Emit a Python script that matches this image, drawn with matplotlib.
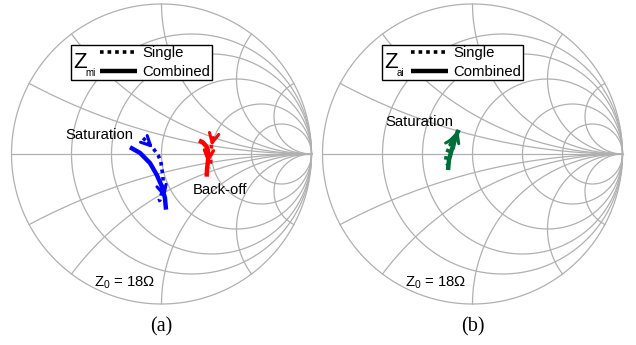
import numpy as np
import matplotlib
matplotlib.use('Agg')
import matplotlib.pyplot as plt
from matplotlib.patches import Rectangle

plt.rcParams['font.family'] = ['Liberation Sans', 'DejaVu Sans']

# grid values of the Smith chart (normalised to Z0 = 18 ohm)
R_GRID = [0.25, 0.5, 1.0, 2.0, 4.0]
X_GRID = [0.25, 0.5, 1.0, 2.0, 4.0]

# trajectories, as reflection coefficient (re, im)
zmi_comb_sat_re = [-0.210, -0.143, -0.077, -0.032, 0.001, 0.023, 0.030]
zmi_comb_sat_im = [0.045, 0.007, -0.060, -0.138, -0.213, -0.293, -0.371]
zmi_single_sat_re = [-0.123, -0.090, -0.057, -0.023, -0.005, 0.003, 0.010, 0.010, 0.003, -0.010, -0.023]
zmi_single_sat_im = [0.107, 0.073, 0.040, -0.007, -0.047, -0.107, -0.147, -0.193, -0.253, -0.307, -0.313]

zmi_comb_bo_re = [0.250, 0.275, 0.300, 0.310, 0.312, 0.308, 0.303, 0.301]
zmi_comb_bo_im = [0.090, 0.078, 0.050, 0.020, -0.018, -0.060, -0.107, -0.151]
zmi_single_bo_re = [0.345, 0.333, 0.327, 0.328, 0.317]
zmi_single_bo_im = [0.110, 0.053, -0.007, -0.053, -0.093]

zai_comb_re = [-0.163, -0.157, -0.139, -0.117, -0.095]
zai_comb_im = [-0.107, -0.040, 0.027, 0.093, 0.160]
zai_single_re = [-0.161, -0.179, -0.172, -0.150, -0.105, -0.090]
zai_single_im = [-0.085, -0.040, 0.005, 0.060, 0.127, 0.160]

GRID_C = '#b0b0b0'
BLUE, RED, GREEN = '#0000ff', '#ff0000', '#006e3a'
SOLID = dict(lw=3.2, solid_capstyle='butt')
DOTTED = dict(lw=2.6, linestyle=(0, (1, 1.1)), dash_capstyle='butt')


def gamma(z):
    return (z - 1) / (z + 1)


def smith_grid(ax):
    t = np.linspace(-np.pi / 2 + 1e-4, np.pi / 2 - 1e-4, 800)
    g = np.exp(1j * np.linspace(0, 2 * np.pi, 400))
    ax.plot(g.real, g.imag, color=GRID_C, lw=0.9)
    ax.plot([-1, 1], [0, 0], color=GRID_C, lw=0.9)
    for r in R_GRID:
        g = gamma(r + 1j * np.tan(t))
        ax.plot(g.real, g.imag, color=GRID_C, lw=0.9)
    tr = np.linspace(0, np.pi / 2 - 1e-4, 600)
    for x in X_GRID:
        for s in (1, -1):
            g = gamma(np.tan(tr) + 1j * s * x)
            ax.plot(g.real, g.imag, color=GRID_C, lw=0.9)


def arrow(ax, xs, ys, i, color):
    ax.annotate('', xy=(xs[i + 1], ys[i + 1]), xytext=(xs[i], ys[i]),
                arrowprops=dict(arrowstyle='->', color=color, lw=2.2,
                                mutation_scale=17, shrinkA=0, shrinkB=0))


def legend_box(ax, x0, y0, sub):
    ax.add_patch(Rectangle((x0, y0), 0.94, 0.233, fill=False, ec='k', lw=1, zorder=4))
    ax.add_patch(Rectangle((x0, y0), 0.94, 0.233, fc='white', ec='none', zorder=3))
    ax.text(x0 + 0.012, y0 + 0.115, 'Z', fontsize=16, va='center', ha='left', zorder=5)
    ax.text(x0 + 0.098, y0 + 0.045, sub, fontsize=7, va='center', ha='left', zorder=5)
    ax.plot([x0 + 0.19, x0 + 0.44], [y0 + 0.185, y0 + 0.185], color='k', zorder=5, **DOTTED)
    ax.plot([x0 + 0.19, x0 + 0.44], [y0 + 0.058, y0 + 0.058], color='k', zorder=5, **SOLID)
    ax.text(x0 + 0.475, y0 + 0.180, 'Single', fontsize=10.7, va='center', zorder=5)
    ax.text(x0 + 0.475, y0 + 0.055, 'Combined', fontsize=10.7, va='center', zorder=5)


W, H = 636, 345
fig = plt.figure(figsize=(W / 100, H / 100), dpi=100)
R = 150.0
for k, cx in enumerate([161.5, 472.5]):
    x_left = 0 if k == 0 else 318
    ax = fig.add_axes([x_left / W, 0, 318 / W, 1])
    ax.set_xlim((x_left - cx) / R, (x_left + 318 - cx) / R)
    ax.set_ylim((154 - H) / R, 154 / R)
    ax.axis('off')
    smith_grid(ax)
    ax.text(-0.45, -0.86, 'Z$_\\mathregular{0}$ = 18\u03a9', fontsize=10.7,
            va='center', ha='left')
    ax.text(0, -1.153, '(a)' if k == 0 else '(b)', fontsize=14.5,
            family=['Liberation Serif'], ha='center', va='center')
    if k == 0:
        legend_box(ax, -0.603, 0.493, 'mi')
        ax.plot(zmi_comb_sat_re, zmi_comb_sat_im, color=BLUE, **SOLID)
        ax.plot(zmi_single_sat_re, zmi_single_sat_im, color=BLUE, **DOTTED)
        ax.plot(zmi_comb_bo_re, zmi_comb_bo_im, color=RED, **SOLID)
        ax.plot(zmi_single_bo_re, zmi_single_bo_im, color=RED, **DOTTED)
        arrow(ax, zmi_comb_sat_re, zmi_comb_sat_im, 4, BLUE)
        arrow(ax, zmi_single_sat_re, zmi_single_sat_im, 1, BLUE)
        arrow(ax, zmi_comb_bo_re, zmi_comb_bo_im, 4, RED)
        arrow(ax, zmi_single_bo_re, zmi_single_bo_im, 0, RED)
        ax.text(-0.19, 0.127, 'Saturation', fontsize=10.7, ha='right', va='center')
        ax.text(0.21, -0.24, 'Back-off', fontsize=10.7, ha='left', va='center')
    else:
        legend_box(ax, -0.603, 0.493, 'ai')
        ax.plot(zai_comb_re, zai_comb_im, color=GREEN, **SOLID)
        ax.plot(zai_single_re, zai_single_im, color=GREEN, **DOTTED)
        arrow(ax, zai_comb_re, zai_comb_im, 3, GREEN)
        arrow(ax, zai_single_re, zai_single_im, 3, GREEN)
        ax.text(-0.13, 0.213, 'Saturation', fontsize=10.7, ha='right', va='center')

fig.savefig('out.png', dpi=100)
